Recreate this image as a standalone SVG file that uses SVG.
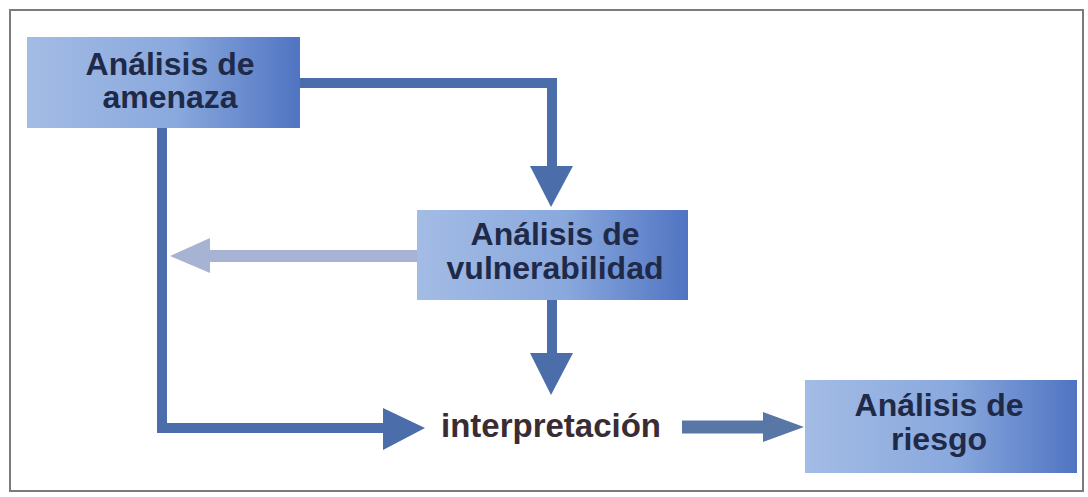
<svg xmlns="http://www.w3.org/2000/svg" width="1088" height="497" viewBox="0 0 1088 497">
<defs>
<linearGradient id="boxg" x1="0" y1="0" x2="1" y2="0">
<stop offset="0" stop-color="#a3bce5"/>
<stop offset="0.55" stop-color="#89a8dd"/>
<stop offset="1" stop-color="#5074c2"/>
</linearGradient>
<style>
.box{fill:url(#boxg);}
.lbl{font-family:"Liberation Sans",Arial,sans-serif;font-weight:bold;font-size:32px;fill:#1f2a48;text-anchor:middle;}
.ln{fill:none;stroke:#4b6eab;stroke-width:10;}
.hd{fill:#4b6eab;}
</style>
</defs>
<rect x="0" y="0" width="1088" height="497" fill="#ffffff"/>
<rect x="10" y="10" width="1073" height="481" fill="none" stroke="#7a7a80" stroke-width="2"/>
<g id="connectors">
<polyline class="ln" points="300,83 552,83 552,168"/>
<polygon class="hd" points="530,166 573,166 551,207"/>
<polyline class="ln" points="162,128 162,428 385,428"/>
<polygon class="hd" points="383,408 383,450 425,428"/>
<line x1="417" y1="256" x2="208" y2="256" stroke="#a7b3d2" stroke-width="12"/>
<polygon points="210,238 210,273 170,256" fill="#a7b3d2"/>
<line class="ln" x1="552" y1="300" x2="552" y2="355"/>
<polygon class="hd" points="530,353 573,353 551,395"/>
<line x1="682" y1="427" x2="765" y2="427" stroke="#5876a6" stroke-width="13"/>
<polygon points="763,412 763,442 804,427" fill="#5876a6"/>
</g>
<g id="n1">
<rect class="box" x="27" y="37" width="273" height="91"/>
<text class="lbl" x="170" y="75">Análisis de</text>
<text class="lbl" x="170" y="108">amenaza</text>
</g>
<g id="n2">
<rect class="box" x="417" y="210" width="271" height="90"/>
<text class="lbl" x="555" y="245">Análisis de</text>
<text class="lbl" x="555" y="279">vulnerabilidad</text>
</g>
<g id="n3">
<rect class="box" x="805" y="380" width="272" height="93"/>
<text class="lbl" x="939" y="416">Análisis de</text>
<text class="lbl" x="939" y="450">riesgo</text>
</g>
<g id="n4">
<text x="551" y="437" font-family="Liberation Sans,Arial,sans-serif" font-weight="bold" font-size="33" fill="#3a2c34" text-anchor="middle">interpretación</text>
</g>
</svg>
